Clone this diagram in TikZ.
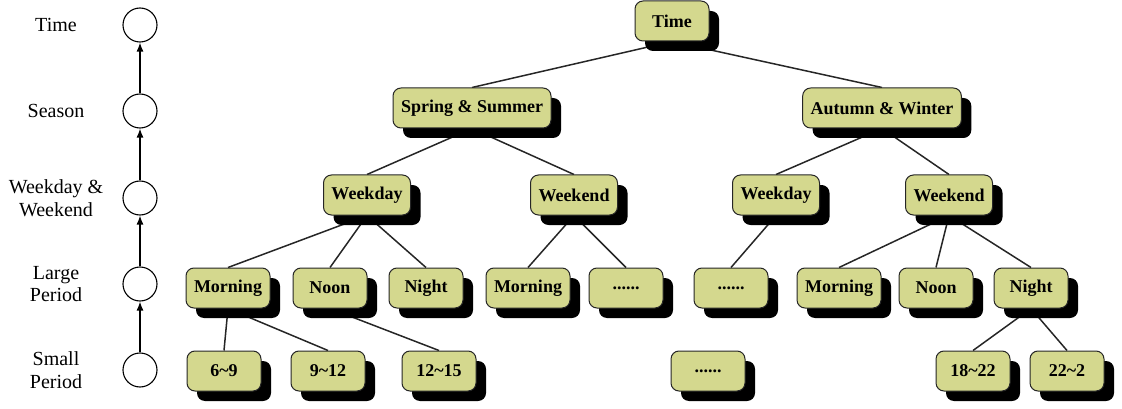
\documentclass[tikz,border=0pt]{standalone}
\usepackage{fontspec}
\setmainfont{Liberation Serif}
\usetikzlibrary{shadows,backgrounds,arrows.meta}
\definecolor{boxfill}{RGB}{212,216,142}
\begin{document}
\begin{tikzpicture}[x=1pt,y=-1pt,
  box/.style={draw=black!85, line width=1pt, fill=boxfill, rounded corners=8pt,
    minimum height=40pt, minimum width=74pt, inner xsep=8pt,
    font=\fontsize{18}{20}\selectfont\bfseries,
    drop shadow={shadow xshift=10pt, shadow yshift=-10pt, opacity=1, fill=black}},
  lvl/.style={draw, circle, minimum size=34pt, inner sep=0pt, line width=1.1pt},
  lab/.style={font=\fontsize{20}{22.5}\selectfont, align=center},
  edge/.style={line width=1.5pt, black!85},
  up/.style={-{Latex[length=9pt,width=7pt]}, line width=1.3pt}
]
\useasboundingbox (0,0) rectangle (1122,409);

% level column
\node[lvl] (c1) at (140,25) {};
\node[lvl] (c2) at (140,111) {};
\node[lvl] (c3) at (140,198) {};
\node[lvl] (c4) at (140,284) {};
\node[lvl] (c5) at (140,370) {};
\node[lab] (l1) at (56,25) {Time};
\node[lab] (l2) at (56,111) {Season};
\node[lab] (l3) at (56,198) {Weekday \&\\Weekend};
\node[lab] (l4) at (56,284) {Large\\Period};
\node[lab] (l5) at (56,370) {Small\\Period};
\draw[up] (c5) -- (c4);
\draw[up] (c4) -- (c3);
\draw[up] (c3) -- (c2);
\draw[up] (c2) -- (c1);

% tree
\node[box] (time) at (672,21) {Time};
\node[box] (ss) at (472,108) {Spring \& Summer};
\node[box] (aw) at (882,108) {Autumn \& Winter};
\node[box] (wd1) at (367,195) {Weekday};
\node[box] (we1) at (574,195) {Weekend};
\node[box] (wd2) at (776,195) {Weekday};
\node[box] (we2) at (949,195) {Weekend};
\node[box] (mo1) at (228,288) {Morning};
\node[box] (no1) at (330,288) {Noon};
\node[box] (ni1) at (426,288) {Night};
\node[box] (mo2) at (528,288) {Morning};
\node[box] (dt1) at (626,288) {......};
\node[box] (dt2) at (731,288) {......};
\node[box] (mo3) at (839,288) {Morning};
\node[box] (no3) at (936,288) {Noon};
\node[box] (ni3) at (1031,288) {Night};
\node[box] (s1) at (224,371) {6\textasciitilde 9};
\node[box] (s2) at (328,371) {9\textasciitilde 12};
\node[box] (s3) at (439,371) {12\textasciitilde 15};
\node[box] (s4) at (708,371) {......};
\node[box] (s5) at (973,371) {18\textasciitilde 22};
\node[box] (s6) at (1067,371) {22\textasciitilde 2};

\begin{pgfonlayer}{background}
\draw[edge] (time.south) -- (ss.north);
\draw[edge] (time.south) -- (aw.north);
\draw[edge] (ss.south) -- (wd1.north);
\draw[edge] (ss.south) -- (we1.north);
\draw[edge] (aw.south) -- (wd2.north);
\draw[edge] (aw.south) -- (we2.north);
\draw[edge] (wd1.south) -- (mo1.north);
\draw[edge] (wd1.south) -- (no1.north);
\draw[edge] (wd1.south) -- (ni1.north);
\draw[edge] (we1.south) -- (mo2.north);
\draw[edge] (we1.south) -- (dt1.north);
\draw[edge] (wd2.south) -- (dt2.north);
\draw[edge] (we2.south) -- (mo3.north);
\draw[edge] (we2.south) -- (no3.north);
\draw[edge] (we2.south) -- (ni3.north);
\draw[edge] (mo1.south) -- (s1.north);
\draw[edge] (mo1.south) -- (s2.north);
\draw[edge] (no1.south) -- (s3.north);
\draw[edge] (ni3.south) -- (s5.north);
\draw[edge] (ni3.south) -- (s6.north);
\end{pgfonlayer}
\end{tikzpicture}
\end{document}
